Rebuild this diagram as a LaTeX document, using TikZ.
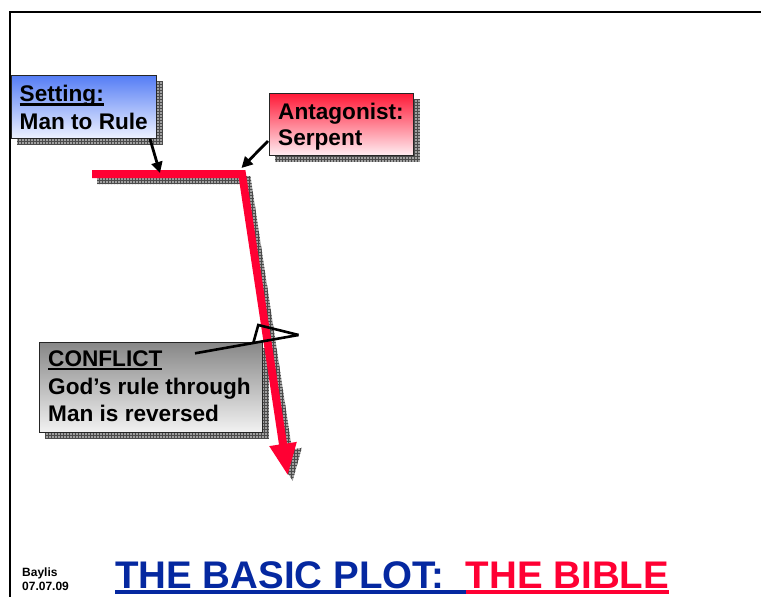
\documentclass[tikz,border=0pt]{standalone}
\usepackage{fontspec}
\setmainfont{Liberation Sans}
\usetikzlibrary{patterns,arrows.meta,backgrounds}

\definecolor{plotred}{RGB}{255,0,51}
\definecolor{titleblue}{RGB}{5,40,160}
\definecolor{shadowgray}{RGB}{160,160,160}
\definecolor{shadowgrid}{RGB}{75,75,75}

% underline: #1 = drop below baseline, #2 = rule thickness, #3 = text
\newcommand\myul[3]{\setbox0\hbox{#3}\rlap{\rule[-#1]{\wd0}{#2}}\box0}

% outline of the plot line (flat run, steep fall, arrowhead)
\newcommand\plotoutline{(92,170) -- (245.4,170) -- (287.0,443.4) -- (296.8,441.9) -- (287.7,474.6) -- (269.2,446.1) -- (279.0,444.6) -- (238.8,178) -- (92,178) -- cycle}

\tikzset{
  boxbase/.style={draw=black!85, line width=0.8pt, inner sep=0pt, anchor=north west},
  bluebox/.style={boxbase, top color={rgb,255:red,85;green,125;blue,245}, bottom color={rgb,255:red,238;green,242;blue,255}},
  redbox/.style={boxbase, top color={rgb,255:red,255;green,25;blue,55}, bottom color={rgb,255:red,255;green,238;blue,242}},
  graybox/.style={boxbase, top color={rgb,255:red,135;green,135;blue,135}, bottom color={rgb,255:red,242;green,242;blue,242}},
  shade fill/.style={fill=shadowgray, postaction={pattern=grid, pattern color=shadowgrid}},
  boxtext/.style={anchor=base west, inner sep=0pt, font=\fontsize{22.6}{26}\selectfont\bfseries},
  pointer/.style={draw=black, line width=2.8pt, -{Triangle[length=11pt,width=11pt]}},
  callout/.style={draw=black, line width=2.6pt, line join=miter},
  frame/.style={draw=black, line width=2pt}
}

\begin{document}
\begin{tikzpicture}[x=1pt, y=-1pt]
\useasboundingbox (0,0) rectangle (761,597);

% page frame (top and left rules)
\coordinate (frameTL) at (10,12);
\coordinate (frameTR) at (761,12);
\coordinate (frameBL) at (10,597);
\draw[frame] (frameTR) -- (frameTL) -- (frameBL);

% caption boxes
\node[bluebox, minimum width=145pt, minimum height=63pt] (setting) at (11,75) {};
\node[redbox,  minimum width=144pt, minimum height=62pt] (antag)   at (269,93) {};
\node[graybox, minimum width=223pt, minimum height=90pt] (conflict) at (39,342) {};

% drop shadows of the boxes
\begin{scope}[on background layer]
  \foreach \b in {setting, antag, conflict}
    \path[shade fill] ([shift={(6,6)}]\b.north west) rectangle ([shift={(6,6)}]\b.south east);
\end{scope}

% plot line with its shadow
\begin{scope}[shift={(5,6)}]
  \path[shade fill] \plotoutline;
\end{scope}
\fill[plotred] \plotoutline;

% pointers from the captions to the plot line
\coordinate (settingFrom) at (150,139);
\coordinate (settingTo) at (160,173);
\draw[pointer] (settingFrom) -- (settingTo);
\coordinate (antagFrom) at (268,141);
\coordinate (antagTo) at (241.5,168);
\draw[pointer] (antagFrom) -- (antagTo);

% conflict callout with open triangular head
\coordinate (cStart) at (195,353.3);
\coordinate (cKink) at (253.3,343);
\coordinate (cTop) at (258.3,325);
\coordinate (cTip) at (298.5,335);
\draw[callout] (cStart) -- (cTip);
\draw[callout] (cKink) -- (cTop) -- (cTip);

% caption texts
\node[boxtext] (setT1) at (19.5,101.7) {\myul{3.8pt}{2.6pt}{Setting:}};
\node[boxtext] (setT2) at (19.5,129.5) {Man to Rule};

\node[boxtext] (antT1) at (278,119.5) {Antagonist:};
\node[boxtext] (antT2) at (278,145.5) {Serpent};

\node[boxtext] (conT1) at (48,366.5) {\myul{3.8pt}{2.6pt}{CONFLICT}};
\node[boxtext] (conT2) at (48,394) {God’s rule through};
\node[boxtext] (conT3) at (48,421) {Man is reversed};

% author and date
\node[anchor=base west, inner sep=0pt, font=\fontsize{12}{14}\selectfont\bfseries] (author) at (22,576) {Baylis};
\node[anchor=base west, inner sep=0pt, font=\fontsize{12}{14}\selectfont\bfseries] (date) at (22,590) {07.07.09};

% title
\node[anchor=base west, inner sep=0pt, font=\fontsize{38.5}{42}\selectfont\bfseries] (title) at (115,588)
  {\color{titleblue}\myul{6pt}{4pt}{THE BASIC PLOT:\ \ }\color{plotred}\myul{6pt}{4pt}{THE BIBLE}};
\end{tikzpicture}
\end{document}
